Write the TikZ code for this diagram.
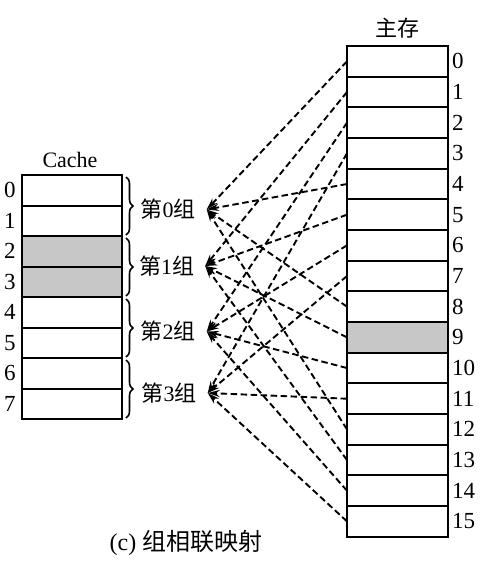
\documentclass[tikz,border=0pt]{standalone}
\usepackage{fontspec}
\setmainfont{Liberation Serif}
\newfontfamily\cjk{Noto Sans CJK SC}
\usetikzlibrary{arrows.meta,decorations.pathreplacing}
\tikzset{
  cell/.style={draw, line width=2pt, minimum width=101pt, minimum height=30.67pt, inner sep=0pt, outer sep=0pt},
  ccell/.style={draw, line width=2pt, minimum width=100pt, minimum height=30.5pt, inner sep=0pt, outer sep=0pt},
  shade/.style={fill=black!22},
  num/.style={font=\fontsize{23}{26}\selectfont, inner sep=0pt},
  grp/.style={font=\fontsize{22}{26}\selectfont, inner xsep=11pt, inner ysep=0pt},
  link/.style={line width=1.9pt, dash pattern=on 6.5pt off 3.5pt, -{Stealth[length=12pt,width=7pt]}},
  brc/.style={line width=1.6pt, decorate, decoration={brace, amplitude=7pt}}
}
\begin{document}
\begin{tikzpicture}[x=1pt,y=-1pt]
\useasboundingbox (0,0) rectangle (486,565);
% main memory
\node[font=\fontsize{22}{26}\selectfont\cjk] (mtitle) at (397.5,28) {主存};
\foreach \i in {0,...,15}{
  \ifnum\i=9
    \node[cell,shade] (m\i) at (397.5,{46+30.67*(\i+0.5)}) {};
  \else
    \node[cell] (m\i) at (397.5,{46+30.67*(\i+0.5)}) {};
  \fi
  \node[num,anchor=west] (mn\i) at (452,{46+30.67*(\i+0.5)}) {\i};
}
% cache
\node[font=\fontsize{22}{26}\selectfont] (ctitle) at (70,160) {Cache};
\foreach \j in {0,...,7}{
  \ifnum\j=2
    \node[ccell,shade] (c\j) at (71.7,{175+30.5*(\j+0.5)}) {};
  \else\ifnum\j=3
    \node[ccell,shade] (c\j) at (71.7,{175+30.5*(\j+0.5)}) {};
  \else
    \node[ccell] (c\j) at (71.7,{175+30.5*(\j+0.5)}) {};
  \fi\fi
  \node[num] (cn\j) at (10,{175+30.5*(\j+0.5)}) {\j};
}
% braces
\draw[brc] (126,177) -- (126,235);
\draw[brc] (126,238) -- (126,296);
\draw[brc] (126,299) -- (126,357);
\draw[brc] (126,360) -- (126,418);
% group labels
\node[grp] (g0) at (168,209.5) {{\cjk 第}0{\cjk 组}};
\node[grp] (g1) at (166.5,266) {{\cjk 第}1{\cjk 组}};
\node[grp] (g2) at (168,331.5) {{\cjk 第}2{\cjk 组}};
\node[grp] (g3) at (169,393) {{\cjk 第}3{\cjk 组}};
% links
\foreach \i in {0,...,15}{
  \pgfmathtruncatemacro{\g}{mod(\i,4)}
  \draw[link] (m\i.west) -- (g\g.east);
}
% caption
\node[font=\fontsize{24}{28}\selectfont] (cap) at (186,543) {(c) {\cjk 组相联映射}};
\end{tikzpicture}
\end{document}
